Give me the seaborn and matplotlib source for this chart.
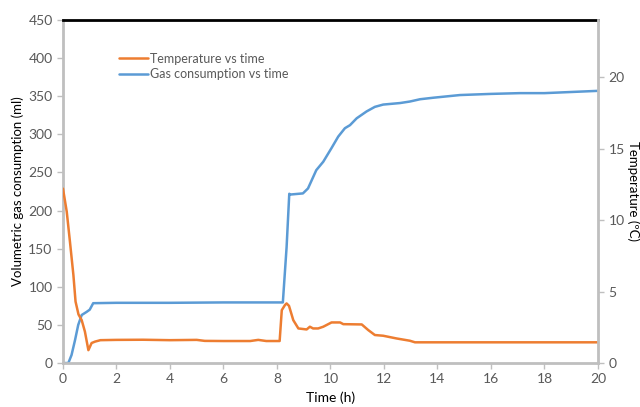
import matplotlib
matplotlib.use("Agg")
import matplotlib.pyplot as plt
import seaborn as sns
import pandas as pd

# gas consumption (ml) vs time (h)
gas_time = [0, 0.2, 0.32, 0.45, 0.57, 0.70, 0.88, 1.0, 1.13, 2, 4, 6, 8.0, 8.22,
            8.36, 8.46, 8.5, 8.97, 9.16, 9.47, 9.73, 10.04, 10.29, 10.54, 10.73,
            10.98, 11.35, 11.66, 11.97, 12.6, 12.97, 13.35, 13.85, 14.84, 16,
            17.08, 18, 20]
gas_ml = [0, 0, 10.5, 30, 50, 63, 67, 70, 78.5, 79, 79, 79.5, 79.5, 79.5,
          152, 222, 221, 222.5, 229, 253, 264, 282, 297, 308, 312,
          321, 330, 336, 339, 341, 343, 346, 348, 351.5, 353,
          354, 354, 357]

# temperature (oC) vs time (h)
temp_time = [0, 0.14, 0.26, 0.39, 0.47, 0.58, 0.70, 0.82, 0.95, 1.07, 1.2, 1.4,
             2, 3, 4, 5, 5.3, 6, 7, 7.3, 7.6, 8.1, 8.18, 8.3, 8.36, 8.45, 8.61,
             8.8, 9.11, 9.23, 9.35, 9.54, 9.73, 10.04, 10.36, 10.48, 11.17,
             11.41, 11.66, 11.97, 12.47, 12.97, 13.16, 20]
temp_c = [12.2, 10.6, 8.5, 6.15, 4.3, 3.4, 3.0, 2.2, 0.9, 1.4, 1.5, 1.6,
          1.62, 1.63, 1.6, 1.62, 1.55, 1.54, 1.54, 1.62, 1.54, 1.54, 3.7, 4.06,
          4.17, 4.0, 3.0, 2.42, 2.35, 2.54, 2.42, 2.42, 2.54, 2.84, 2.84, 2.72,
          2.70, 2.31, 1.96, 1.91, 1.72, 1.56, 1.45, 1.45]

gas_df = pd.DataFrame({"time": gas_time, "gas": gas_ml})
temp_df = pd.DataFrame({"time": temp_time, "temp": temp_c})

sns.set_style("white")
plt.rcParams['font.family'] = ['Lato', 'DejaVu Sans']

blue = "#5B9BD5"
orange = "#ED7D31"
grey = "#BFBFBF"
tick_col = "#595959"

fig = plt.figure(figsize=(6.4, 4.07), dpi=100)
ax = fig.add_axes([0.0984, 0.108, 0.8359, 0.843])
ax2 = ax.twinx()

sns.lineplot(data=gas_df, x="time", y="gas", ax=ax, color=blue, linewidth=1.8,
             sort=False, estimator=None, label="Gas consumption vs time", legend=False)
sns.lineplot(data=temp_df, x="time", y="temp", ax=ax2, color=orange, linewidth=1.8,
             sort=False, estimator=None, label="Temperature vs time", legend=False)

ax.set_xlim(0, 20)
ax.set_ylim(0, 450)
ax2.set_ylim(0, 24)
ax.set_xticks(range(0, 21, 2))
ax.set_yticks(range(0, 451, 50))
ax2.set_yticks([0, 5, 10, 15, 20])

ax.set_xlabel("Time (h)", fontsize=10, color="black", labelpad=4)
ax.set_ylabel("Volumetric gas consumption (ml)", fontsize=9.5, color="black", labelpad=3)
ax2.set_ylabel("Temperature (ºC)", fontsize=9.5, color="black", rotation=270, labelpad=11)

for a in (ax, ax2):
    a.tick_params(axis="both", colors=grey, labelcolor=tick_col, labelsize=10,
                  length=4, width=1, direction="out")
    for s in a.spines.values():
        s.set_visible(False)

ax.spines["left"].set_visible(True)
ax.spines["left"].set_color(grey)
ax.spines["left"].set_linewidth(2)
ax.spines["bottom"].set_visible(True)
ax.spines["bottom"].set_color(grey)
ax.spines["bottom"].set_linewidth(2)
ax.spines["top"].set_visible(True)
ax.spines["top"].set_color("black")
ax.spines["top"].set_linewidth(2)
ax2.spines["right"].set_visible(True)
ax2.spines["right"].set_color(grey)
ax2.spines["right"].set_linewidth(2)
ax.tick_params(axis="y", left=True, right=False)
ax.tick_params(axis="x", bottom=True, top=False)
ax2.tick_params(axis="y", right=True, left=False)

h1, l1 = ax.get_legend_handles_labels()
h2, l2 = ax2.get_legend_handles_labels()
leg = ax2.legend(h2 + h1, l2 + l1, loc="upper left", bbox_to_anchor=(0.105, 0.905),
                 frameon=False, fontsize=9, handlelength=2.3, handletextpad=0.2,
                 borderpad=0, borderaxespad=0, labelspacing=0.3)
for t in leg.get_texts():
    t.set_color(tick_col)

fig.savefig("out.png", dpi=100)
